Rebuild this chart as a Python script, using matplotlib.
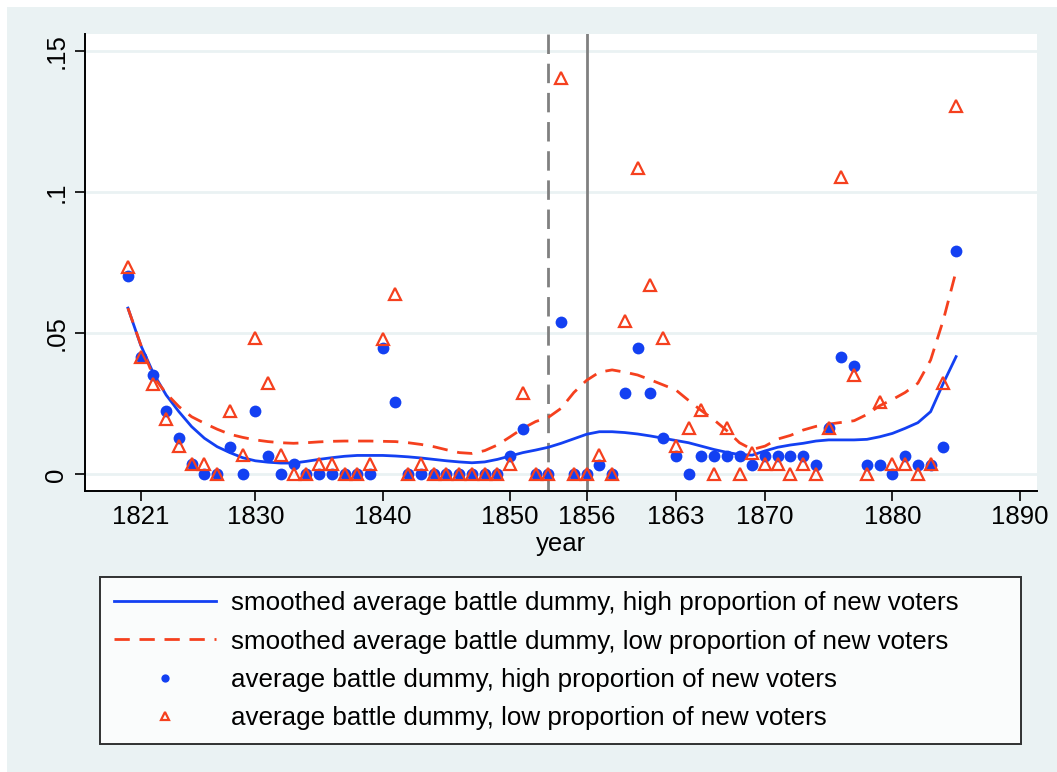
import numpy as np
import matplotlib.pyplot as plt
from matplotlib.patches import Rectangle

plt.rcParams['font.family'] = ['Liberation Sans', 'DejaVu Sans']

# years 1820..1885
years = list(range(1820, 1886))

# average battle dummy, high proportion of new voters
high = [0.0701, 0.0417, 0.0352, 0.0224, 0.0129, 0.0035, 0.0, 0.0, 0.0097, 0.0,
        0.0224, 0.0066, 0.0, 0.0035, 0.0, 0.0, 0.0, 0.0, 0.0, 0.0,
        0.0447, 0.0255, 0.0, 0.0, 0.0, 0.0, 0.0, 0.0, 0.0, 0.0,
        0.0065, 0.0160, 0.0, 0.0, 0.0541, 0.0, 0.0, 0.0033, 0.0, 0.0287,
        0.0447, 0.0287, 0.0130, 0.0065, 0.0, 0.0065, 0.0065, 0.0065, 0.0065, 0.0033,
        0.0065, 0.0065, 0.0065, 0.0065, 0.0033, 0.0163, 0.0415, 0.0384, 0.0033, 0.0033,
        0.0, 0.0065, 0.0033, 0.0033, 0.0096, 0.0793]

# average battle dummy, low proportion of new voters
low = [0.0736, 0.0417, 0.0320, 0.0195, 0.0100, 0.0035, 0.0037, 0.0, 0.0226, 0.0068,
       0.0482, 0.0322, 0.0069, 0.0, 0.0, 0.0036, 0.0036, 0.0, 0.0, 0.0036,
       0.0480, 0.0639, 0.0, 0.0036, 0.0, 0.0, 0.0, 0.0, 0.0, 0.0,
       0.0037, 0.0289, 0.0, 0.0, 0.1404, 0.0, 0.0, 0.0068, 0.0, 0.0545,
       0.1085, 0.0671, 0.0482, 0.0100, 0.0163, 0.0228, 0.0, 0.0163, 0.0, 0.0077,
       0.0037, 0.0037, 0.0, 0.0037, 0.0, 0.0163, 0.1053, 0.0352, 0.0, 0.0258,
       0.0037, 0.0037, 0.0, 0.0035, 0.0323, 0.1306]

# smoothed averages
smooth_high = [0.0589, 0.0458, 0.0358, 0.0281, 0.0222, 0.0169, 0.0128, 0.0098, 0.0077, 0.0059,
               0.0048, 0.0043, 0.0040, 0.0040, 0.0046, 0.0053, 0.0059, 0.0064, 0.0067, 0.0067,
               0.0067, 0.0065, 0.0062, 0.0058, 0.0053, 0.0048, 0.0044, 0.0041, 0.0044, 0.0053,
               0.0065, 0.0077, 0.0086, 0.0096, 0.0110, 0.0126, 0.0142, 0.0151, 0.0151, 0.0148,
               0.0143, 0.0136, 0.0128, 0.0120, 0.0112, 0.0100, 0.0088, 0.0078, 0.0070, 0.0068,
               0.0083, 0.0096, 0.0104, 0.0110, 0.0118, 0.0122, 0.0122, 0.0122, 0.0124, 0.0133,
               0.0145, 0.0163, 0.0183, 0.0222, 0.0323, 0.0417]

smooth_low = [0.0589, 0.0460, 0.0346, 0.0287, 0.0240, 0.0204, 0.0181, 0.0160, 0.0142, 0.0131,
              0.0122, 0.0116, 0.0112, 0.0110, 0.0112, 0.0115, 0.0117, 0.0118, 0.0118, 0.0118,
              0.0117, 0.0116, 0.0112, 0.0106, 0.0098, 0.0087, 0.0077, 0.0074, 0.0084, 0.0104,
              0.0133, 0.0163, 0.0187, 0.0202, 0.0234, 0.0290, 0.0333, 0.0362, 0.0370, 0.0362,
              0.0352, 0.0335, 0.0317, 0.0299, 0.0262, 0.0226, 0.0193, 0.0155, 0.0112, 0.0088,
              0.0100, 0.0125, 0.0138, 0.0157, 0.0170, 0.0178, 0.0184, 0.0190, 0.0212, 0.0243,
              0.0265, 0.0290, 0.0323, 0.0405, 0.0547, 0.0720]

xticks = [1821, 1830, 1840, 1850, 1856, 1863, 1870, 1880, 1890]
yticks = [0, 0.05, 0.1, 0.15]
ytick_labels = ['0', '.05', '.1', '.15']
xlines = [1853, 1856]

bg = '#EAF2F3'
blue = '#1340F2'
red = '#F5401E'

fig = plt.figure(figsize=(10.57, 7.72), dpi=100, facecolor='white')
fig.patches.append(Rectangle((7 / 1057, 0), 1, (772 - 7) / 772, transform=fig.transFigure,
                             facecolor=bg, edgecolor='none', zorder=-10))
ax = fig.add_axes([85 / 1057, 1 - 491 / 772, (1037 - 85) / 1057, (491 - 34) / 772])
ax.set_facecolor('white')

for yv in yticks:
    ax.axhline(yv, color=bg, linewidth=2, zorder=0)

ax.axvline(xlines[0], color='#808080', linewidth=2, linestyle=(0, (7, 3.5)), zorder=1)
ax.axvline(xlines[1], color='#808080', linewidth=2, zorder=1)

l1, = ax.plot(years, smooth_high, color=blue, linewidth=2, zorder=2)
l2, = ax.plot(years, smooth_low, color=red, linewidth=2, linestyle=(0, (5.5, 3.5)), zorder=2)
s1, = ax.plot(years, high, linestyle='none', marker='o', markersize=8.5,
              color=blue, markeredgewidth=0, zorder=3)
s2, = ax.plot(years, low, linestyle='none', marker='^', markersize=8.5,
              markerfacecolor='none', markeredgecolor=red, markeredgewidth=1.6, zorder=4)

ax.set_xlim(1816.63, 1891.35)
ax.set_ylim(-0.0059, 0.156)
ax.set_xticks(xticks)
ax.set_xticklabels([str(x) for x in xticks])
ax.set_yticks(yticks)
ax.set_yticklabels(ytick_labels, rotation=90, va='center')
ax.tick_params(axis='both', direction='out', length=7, width=1.2, labelsize=18.5, colors='black')
ax.tick_params(axis='x', pad=3)
ax.tick_params(axis='y', pad=5)
for side in ['top', 'right']:
    ax.spines[side].set_visible(False)
for side in ['left', 'bottom']:
    ax.spines[side].set_linewidth(1.4)
ax.set_xlabel('year', fontsize=18.5, labelpad=2)

leg = fig.legend([l1, l2, s1, s2],
                 ['smoothed average battle dummy, high proportion of new voters',
                  'smoothed average battle dummy, low proportion of new voters',
                  'average battle dummy, high proportion of new voters',
                  'average battle dummy, low proportion of new voters'],
                 loc='upper left',
                 bbox_to_anchor=(100 / 1057, 0, 921 / 1057, 1 - 577 / 772),
                 mode='expand', borderaxespad=0,
                 fontsize=18.7, frameon=True, fancybox=False, edgecolor='black',
                 handlelength=3.9, handletextpad=0.6, labelspacing=0.55,
                 borderpad=0.55, markerscale=0.7)
leg.get_frame().set_linewidth(1.4)
leg.get_frame().set_facecolor('white')

fig.savefig('out.png', dpi=100, facecolor=fig.get_facecolor())
